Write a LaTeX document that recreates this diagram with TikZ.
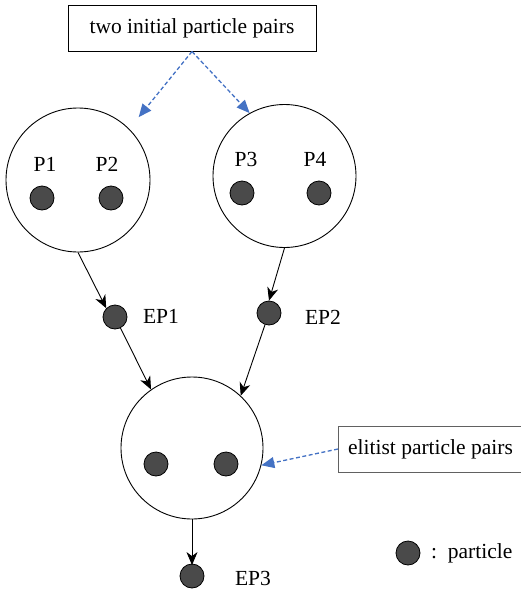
\documentclass[tikz,border=0pt]{standalone}
\usepackage{fontspec}
\setmainfont{Liberation Serif}
\usetikzlibrary{arrows.meta}
\definecolor{dotfill}{HTML}{4A4A4A}
\definecolor{noteblue}{HTML}{4472C4}
\tikzset{
  txt/.style={font=\fontsize{21.5}{26}\selectfont, inner sep=0pt},
  group/.style={circle, draw, line width=0.9pt, minimum size=#1, inner sep=0pt},
  particle/.style={circle, draw=black, line width=0.8pt, fill=dotfill, minimum size=24pt, inner sep=0pt},
  notebox/.style={draw, line width=1pt, minimum height=46pt, font=\fontsize{21.5}{26}\selectfont},
  flow/.style={line width=0.9pt, -{Stealth[length=13pt,width=11pt,inset=4pt]}},
  note/.style={noteblue, line width=1.3pt, dash pattern=on 4pt off 2.5pt,
               -{Triangle[length=13pt,width=11pt]}}
}
\begin{document}
\begin{tikzpicture}[x=1pt, y=-1pt]
  \useasboundingbox (0,0) rectangle (520,592);

  % annotation boxes
  \node[notebox, minimum width=248pt] (init) at (192,28) {two initial particle pairs};
  \node[notebox, draw=black!62, minimum width=184pt, anchor=west] (elite) at (338,449) {elitist particle pairs};

  % particle groups
  \node[group=144pt] (c1) at (78,180) {};
  \node[group=143pt] (c2) at (284.5,176) {};
  \node[group=142pt] (c3) at (192,448) {};

  % particles of the first pair
  \node[particle] (p1) at (42,198) {};
  \node[particle] (p2) at (111,198) {};
  \node[txt] (l1) at (45,164) {P1};
  \node[txt] (l2) at (107,164) {P2};

  % particles of the second pair
  \node[particle] (p3) at (242,193) {};
  \node[particle] (p4) at (319,193) {};
  \node[txt] (l3) at (246,159) {P3};
  \node[txt] (l4) at (315,159) {P4};

  % elitist particles
  \node[particle] (ep1) at (115,317) {};
  \node[txt] (lep1) at (161,316) {EP1};
  \node[particle] (ep2) at (269,313) {};
  \node[txt] (lep2) at (323,317) {EP2};

  % particles of the elitist pair
  \node[particle] (q1) at (156,464) {};
  \node[particle] (q2) at (226,464) {};

  % final particle
  \node[particle] (ep3) at (192,576) {};
  \node[txt] (lep3) at (253,578) {EP3};

  % legend
  \node[particle] (leg) at (408,553) {};
  \node[txt, anchor=west] (legtxt) at (431,553) {:\ \ particle};

  % flow of the particles
  \draw[flow] (c1.south) -- (ep1.north west);
  \draw[flow] (c2.south) -- (ep2.north);
  \draw[flow] (ep1) -- (c3.125);
  \draw[flow] (ep2) -- (c3.47);
  \draw[flow] (c3.south) -- ([yshift=-1.5pt]ep3.north);

  % annotation arrows
  \draw[note, shorten >=15pt] (init.south) -- (c1.45);
  \draw[note] (init.south) -- (c2.119);
  \draw[note] (elite.west) -- (c3.-14);
\end{tikzpicture}
\end{document}
